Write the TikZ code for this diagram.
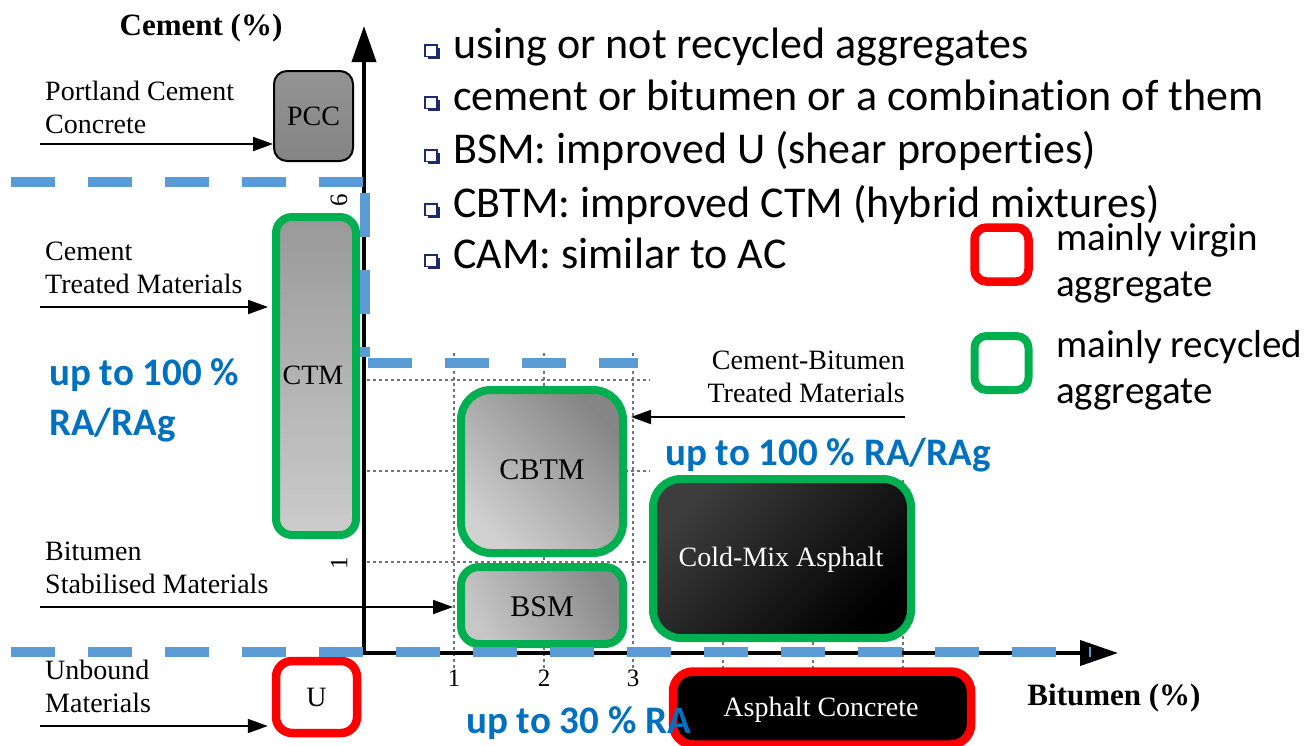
\documentclass[tikz,border=0pt]{standalone}
\usepackage{fontspec}
\setmainfont{Liberation Serif}
\newfontfamily\carl[Ligatures=NoCommon]{Carlito}
\usetikzlibrary{arrows.meta}
\definecolor{rablue}{HTML}{0070C0}
\definecolor{dashblue}{HTML}{5B9BD5}
\definecolor{virgin}{HTML}{FF0000}
\definecolor{recyc}{HTML}{00B050}
\definecolor{bulletnavy}{HTML}{1F2A6B}
\tikzset{
  lbl/.style={inner sep=0pt, align=left, anchor=base west, font=\fontsize{28}{33}\selectfont},
  boxtxt/.style={font=\fontsize{28}{32}\selectfont},
  pointer/.style={line width=1.8pt, -{Triangle[length=20pt,width=14pt]}},
  axisline/.style={line width=4pt, line join=miter,
    {Triangle[length=36pt,width=24pt]}-{Triangle[length=38pt,width=25pt]}},
  gridline/.style={black!55, line width=1.2pt, dash pattern=on 3pt off 3pt},
  region/.style={line width=10pt, dashblue, dash pattern=on 44pt off 33pt},
  greenbox/.style={draw=recyc, line width=8pt},
  redbox/.style={draw=virgin, line width=8.5pt},
  ratext/.style={text=rablue, font=\carl\bfseries\fontsize{39}{50}\selectfont,
    inner sep=0pt, anchor=base west, align=left},
  bullettext/.style={font=\carl\fontsize{44}{52}\selectfont, inner sep=0pt, anchor=base west},
  legendtext/.style={font=\carl\fontsize{39}{46}\selectfont, inner sep=0pt, anchor=base west, align=left},
  ticklbl/.style={font=\fontsize{25}{28}\selectfont, inner sep=0pt, anchor=base},
  axistitle/.style={font=\bfseries\fontsize{31}{36}\selectfont, inner sep=0pt, anchor=base},
}
\begin{document}
\begin{tikzpicture}[x=1pt,y=-1pt]
\useasboundingbox (0,0) rectangle (1306,745);

% dotted reference grid
\foreach \gx in {454,544,633} \draw[gridline] (\gx,353) -- (\gx,670);
\foreach \gx in {723,813,903} \draw[gridline] (\gx,480) -- (\gx,670);
\foreach \gy in {380,471,562} \draw[gridline] (367,\gy) -- (650,\gy);

% axes
\coordinate (orig) at (364,653);
\coordinate (ytip) at (364,26);
\coordinate (xtip) at (1118,653);
\draw[axisline] (ytip) -- (orig) -- (xtip);

\node[axistitle] (ytitle) at (201,35) {Cement (\%)};
\node[axistitle] (xtitle) at (1114,705) {Bitumen (\%)};

\node[ticklbl] (bx1) at (454,686) {1};
\node[ticklbl] (bx2) at (544,686) {2};
\node[ticklbl] (bx3) at (633,686) {3};
\node[font=\fontsize{25}{28}\selectfont, inner sep=0pt, rotate=90] (cy6) at (339,200) {6};
\node[font=\fontsize{25}{28}\selectfont, inner sep=0pt, rotate=90] (cy1) at (339,563) {1};

% material boxes
\node[draw=black, line width=2pt, rounded corners=13pt, top color=black!42, bottom color=black!48,
      minimum width=79pt, minimum height=90pt, boxtxt] (pcc) at (313.5,116) {PCC};
\node[greenbox, rounded corners=16pt, top color=black!40, bottom color=black!20,
      minimum width=80pt, minimum height=318pt] (ctm) at (316,376) {};
\node[boxtxt] (ctmtxt) at (313,375) {CTM};
\node[redbox, fill=white, rounded corners=16pt,
      minimum width=81pt, minimum height=72pt, boxtxt] (u) at (316.5,697) {U};
\node[greenbox, rounded corners=30pt, left color=black!18, right color=black!48, shading angle=135,
      minimum width=162pt, minimum height=163pt] (cbtm) at (542,471.5) {};
\node[boxtxt, font=\fontsize{30}{34}\selectfont] (cbtmtxt) at (542,470) {CBTM};
\node[greenbox, rounded corners=18pt, left color=black!22, right color=black!46, shading angle=120,
      minimum width=162pt, minimum height=77pt] (bsm) at (542,605.5) {};
\node[boxtxt, font=\fontsize{30}{34}\selectfont] (bsmtxt) at (542,607) {BSM};
\node[greenbox, rounded corners=28pt, left color=black!76, right color=black, shading angle=45,
      minimum width=258pt, minimum height=159pt] (cma) at (782,558.5) {};
\node[boxtxt, text=white] (cmatxt) at (781,560) {Cold-Mix Asphalt};
\node[redbox, fill=black, rounded corners=20pt,
      minimum width=298pt, minimum height=73pt] (ac) at (822,708) {};
\node[boxtxt, text=white] (actxt) at (821,710) {Asphalt Concrete};

% category labels with their pointers (anchored at the last baseline)
\node[lbl] (lpcc) at (45,133) {Portland Cement\\Concrete};
\node[lbl] (lctm) at (45,293) {Cement\\Treated Materials};
\node[lbl] (lbsm) at (45,593) {Bitumen\\Stabilised Materials};
\node[lbl] (lu) at (45,712) {Unbound\\Materials};
\node[lbl, align=right, anchor=base east] (lcbtm) at (905,402) {Cement-Bitumen\\Treated Materials};

\coordinate (spcc) at (40,144);
\coordinate (sctm) at (40,307);
\coordinate (sbsm) at (40,607);
\coordinate (su) at (40,726);
\coordinate (scbtm) at (905,417);
\draw[pointer] (spcc) -- (spcc -| pcc.west);
\draw[pointer, shorten >=4pt] (sctm) -- (sctm -| ctm.west);
\draw[pointer, shorten >=4pt] (sbsm) -- (sbsm -| bsm.west);
\draw[pointer, shorten >=4pt] (su) -- (su -| u.west);
\draw[pointer, shorten >=4pt] (scbtm) -- (scbtm -| cbtm.east);

% binder regions
\coordinate (r1a) at (11,182);   \coordinate (r1b) at (363,182);
\coordinate (r2a) at (365,193);  \coordinate (r2b) at (365,357);
\coordinate (r3a) at (368,363);  \coordinate (r3b) at (638,363);
\coordinate (r4a) at (11,652);   \coordinate (r4b) at (1091,652);
\draw[region] (r1a) -- (r1b);
\draw[region] (r2a) -- (r2b);
\draw[region] (r3a) -- (r3b);
\draw[region] (r4a) -- (r4b);

% notes
\foreach \by in {58,110,163,217,268} {
  \fill[bulletnavy] (427.5,47.5+\by-58) rectangle (440,58.5+\by-58);
  \draw[bulletnavy, line width=1.3pt, fill=white] (425,45+\by-58) rectangle (437,56.5+\by-58);
}
\node[bullettext] (n1) at (453,58) {using or not recycled aggregates};
\node[bullettext] (n2) at (453,110) {cement or bitumen or a combination of them};
\node[bullettext] (n3) at (453,163) {BSM: improved U (shear properties)};
\node[bullettext] (n4) at (453,217) {CBTM: improved CTM (hybrid mixtures)};
\node[bullettext] (n5) at (453,268) {CAM: similar to AC};

% legend
\node[redbox, rounded corners=12pt, minimum size=54pt] (legv) at (1001.5,254.5) {};
\node[greenbox, rounded corners=12pt, minimum size=54pt] (legr) at (1001.5,363) {};
\node[legendtext] (legvt) at (1056,296) {mainly virgin\\aggregate};
\node[legendtext] (legrt) at (1056,403) {mainly recycled\\aggregate};

% recycled content
\node[ratext] (ra1) at (49,435) {up to 100 \%\\RA/RAg};
\node[ratext] (ra2) at (665,465) {up to 100 \% RA/RAg};
\node[ratext] (ra3) at (466,733) {up to 30 \% RA};
\end{tikzpicture}
\end{document}
